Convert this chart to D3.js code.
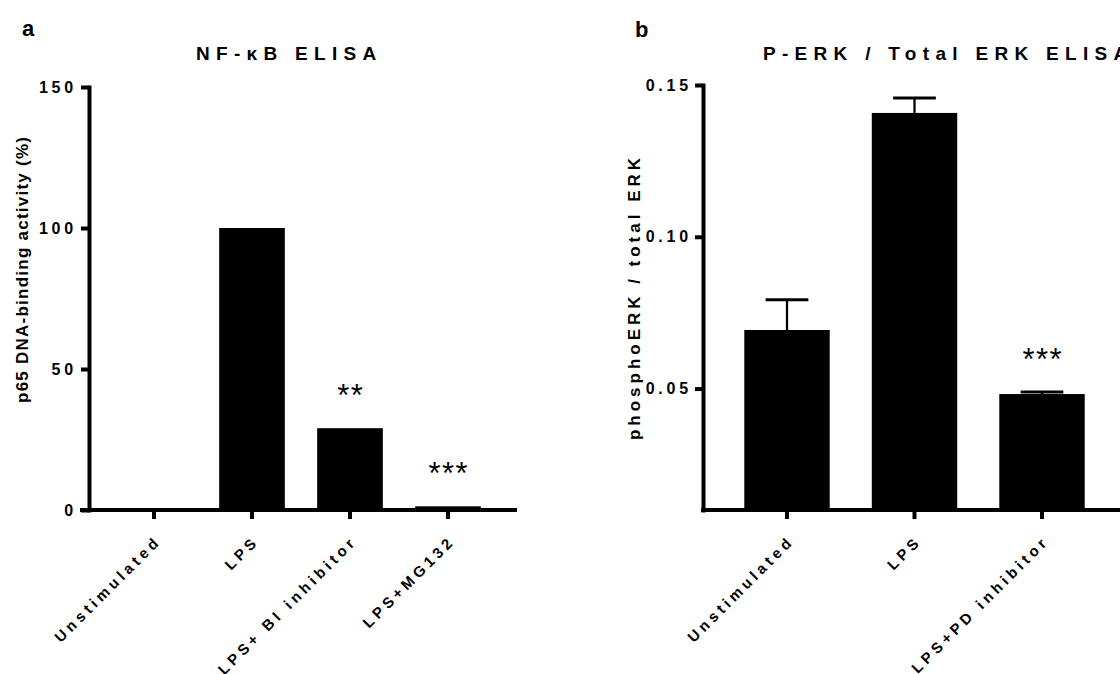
<!DOCTYPE html>
<html>
<head>
<meta charset="utf-8">
<script src="https://cdn.jsdelivr.net/npm/d3@7"></script>
<style>
    body { margin: 0; background: #fff; }
    svg text { font-family: "Liberation Sans", Arial, sans-serif; }
</style>
</head>
<body>
<div id="chart"></div>
<script>
// panel a data
const cats_a = ["Unstimulated", "LPS", "LPS+ BI inhibitor", "LPS+MG132"];
const vals_a = [0, 100, 29, 1.3];
const sig_a = ["", "", "**", "***"];
const ticks_a = [0, 50, 100, 150];

// panel b data
const cats_b = ["Unstimulated", "LPS", "LPS+PD inhibitor"];
const vals_b = [0.0693, 0.1408, 0.0482];
const err_b = [0.0100, 0.0049, 0.0007];
const sig_b = ["", "", "***"];
const ticks_b = [0.05, 0.10, 0.15];

const svg = d3.select("#chart")
    .append("svg")
    .attr("width", 1120)
    .attr("height", 674);

function drawPanel(opt) {
    let g = svg.append("g");

    let x = d3.scaleBand()
        .domain(opt.cats)
        .range(opt.xRange)
        .paddingInner(0.33)
        .paddingOuter(0.165);

    let y = d3.scaleLinear()
        .domain(opt.yDomain)
        .range(opt.yRange);

    let axisX = opt.axisX;
    let baseY = opt.yRange[0];

    // bars
    g.selectAll("rect.bar")
        .data(opt.vals)
        .enter()
        .append("rect")
        .attr("class", "bar")
        .attr("x", (d, i) => x(opt.cats[i]))
        .attr("width", x.bandwidth())
        .attr("y", d => y(d))
        .attr("height", d => baseY - y(d))
        .attr("fill", "#000");

    // error bars (upper only)
    if (opt.errs) {
        opt.errs.forEach((e, i) => {
            let cx = x(opt.cats[i]) + x.bandwidth() / 2;
            let top = y(opt.vals[i] + e);
            g.append("line")
                .attr("x1", cx).attr("x2", cx)
                .attr("y1", y(opt.vals[i])).attr("y2", top)
                .attr("stroke", "#000").attr("stroke-width", 2.3);
            g.append("line")
                .attr("x1", cx - x.bandwidth() / 4).attr("x2", cx + x.bandwidth() / 4)
                .attr("y1", top).attr("y2", top)
                .attr("stroke", "#000").attr("stroke-width", 3);
        });
    }

    // significance stars
    g.selectAll("text.sig")
        .data(opt.sig)
        .enter()
        .append("text")
        .attr("class", "sig")
        .attr("x", (d, i) => x(opt.cats[i]) + x.bandwidth() / 2)
        .attr("dx", 0.75)
        .attr("y", (d, i) => y(opt.vals[i] + (opt.errs ? opt.errs[i] : 0)) - 22)
        .attr("text-anchor", "middle")
        .attr("font-size", 31)
        .attr("letter-spacing", 1.5)
        .attr("fill", "#000")
        .text(d => d);

    // y axis
    let yAxis = g.append("g")
        .attr("transform", `translate(${axisX},0)`)
        .call(d3.axisLeft(y).tickValues(opt.ticks).tickSize(8).tickSizeOuter(0)
            .tickFormat(opt.tickFormat));
    yAxis.select(".domain").attr("stroke-width", 4).attr("stroke-linecap", "square");
    yAxis.selectAll(".tick line").attr("stroke-width", 4);
    yAxis.selectAll(".tick text")
        .attr("x", -opt.tickLabelGap)
        .attr("font-size", 16)
        .attr("font-weight", "bold")
        .attr("letter-spacing", 3.8)
        .attr("fill", "#000");

    // x axis
    let xAxis = g.append("g")
        .attr("transform", `translate(0,${baseY})`)
        .call(d3.axisBottom(x).tickSize(9).tickSizeOuter(0));
    xAxis.select(".domain").remove();
    xAxis.selectAll(".tick line").attr("stroke-width", 4);
    xAxis.selectAll(".tick text")
        .attr("x", 0).attr("y", 0).attr("dy", 0)
        .attr("transform", "translate(8,32) rotate(-45)")
        .attr("text-anchor", "end")
        .attr("font-size", 15)
        .attr("font-weight", "bold")
        .attr("letter-spacing", 4)
        .attr("fill", "#000");
    g.append("line")
        .attr("x1", opt.xLineStart).attr("x2", opt.xLineEnd)
        .attr("y1", baseY).attr("y2", baseY)
        .attr("stroke", "#000").attr("stroke-width", 4);

    // y label
    g.append("text")
        .attr("transform", `translate(${opt.yLabelPos[0]},${opt.yLabelPos[1]}) rotate(-90)`)
        .attr("text-anchor", "middle")
        .attr("font-size", 17)
        .attr("font-weight", "bold")
        .attr("textLength", opt.yLabelLen)
        .attr("lengthAdjust", "spacing")
        .attr("fill", "#000")
        .text(opt.yLabel);

    // title
    g.append("text")
        .attr("x", opt.titlePos[0])
        .attr("y", opt.titlePos[1])
        .attr("font-size", 19)
        .attr("font-weight", "bold")
        .attr("letter-spacing", 6.3)
        .attr("fill", "#000")
        .text(opt.title);

    // panel letter
    g.append("text")
        .attr("x", opt.letterPos[0])
        .attr("y", opt.letterPos[1])
        .attr("font-size", 22)
        .attr("font-weight", "bold")
        .attr("fill", "#000")
        .text(opt.letter);
}

drawPanel({
    cats: cats_a, vals: vals_a, sig: sig_a, ticks: ticks_a,
    xRange: [105, 497], yDomain: [0, 150], yRange: [510, 87],
    axisX: 89, xLineStart: 80, xLineEnd: 517, tickLabelGap: 12,
    tickFormat: d3.format("d"),
    yLabel: "p65 DNA-binding activity (%)", yLabelPos: [28, 270], yLabelLen: 266,
    title: "NF-\u03baB ELISA", titlePos: [196, 60],
    letter: "a", letterPos: [22, 36]
});

drawPanel({
    cats: cats_b, vals: vals_b, errs: err_b, sig: sig_b, ticks: ticks_b,
    xRange: [723.25, 1105.75], yDomain: [0.01, 0.15], yRange: [510, 85],
    axisX: 703, xLineStart: 701, xLineEnd: 1125, tickLabelGap: 11,
    tickFormat: d3.format(".2f"),
    yLabel: "phosphoERK / total ERK", yLabelPos: [640, 299], yLabelLen: 282,
    title: "P-ERK / Total ERK ELISA", titlePos: [763, 60],
    letter: "b", letterPos: [635, 37]
});
</script>
</body>
</html>
